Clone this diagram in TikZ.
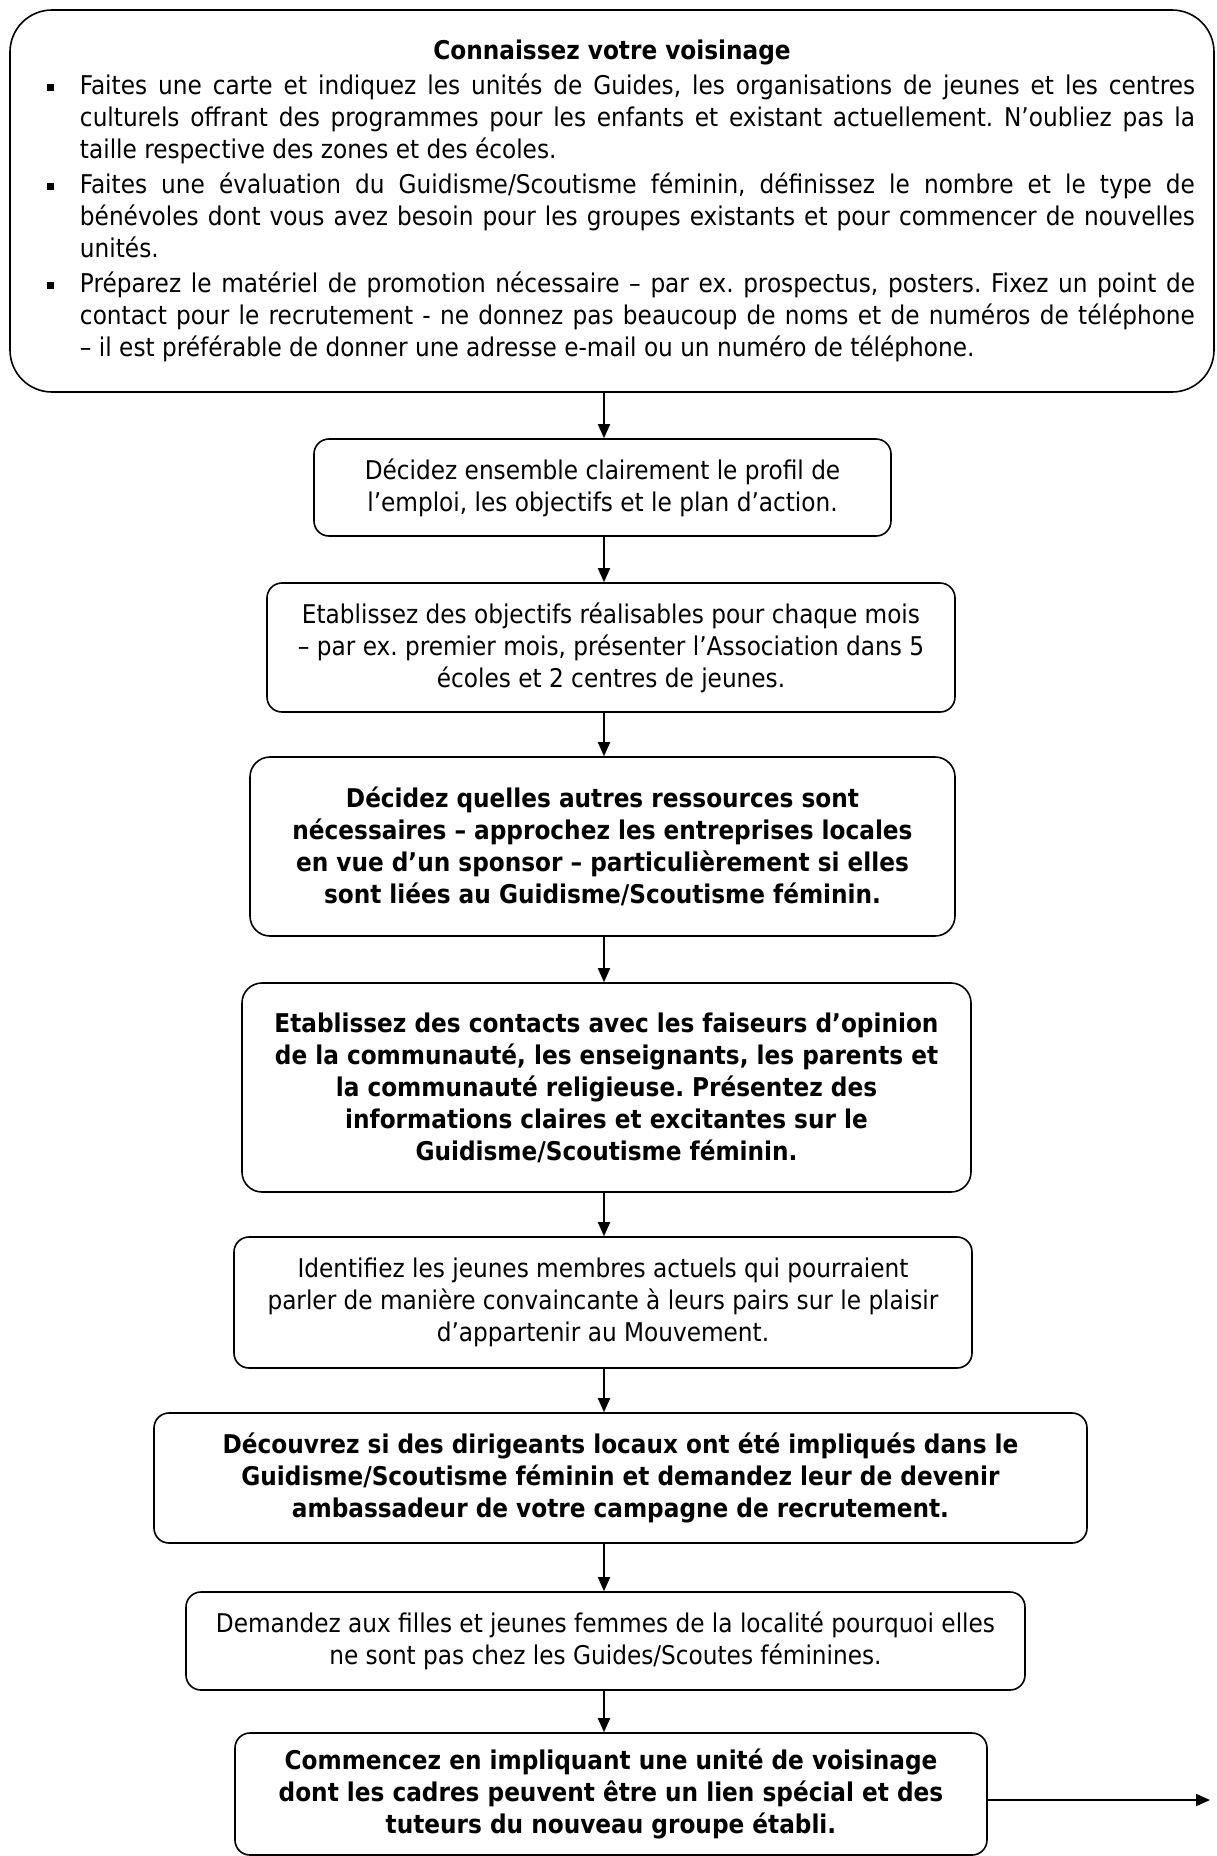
\documentclass[tikz,border=0pt]{standalone}
\usepackage{fontspec}
\setmainfont{DejaVu Sans Condensed}
\usetikzlibrary{arrows.meta}

\frenchspacing
\newcommand{\puce}{\leavevmode\llap{\rule[3.5pt]{7pt}{7pt}\hspace{26pt}}}

\tikzset{
  etape/.style={draw, line width=1.6pt, rounded corners=15pt, align=center,
    inner sep=0pt, font=\fontsize{25.8}{32}\selectfont},
  etapegras/.style={etape, font=\fontsize{25.8}{32}\selectfont\bfseries},
  fleche/.style={line width=1.6pt, -{Triangle[length=14pt,width=12pt]}},
}

\begin{document}
\begin{tikzpicture}[x=1pt, y=-1pt]
  \useasboundingbox (0,0) rectangle (1216,1856);
  \coordinate (axe) at (604,0);
  \coordinate (sortie) at (1210,1800);

  \node[draw, line width=1.6pt, rounded corners=42pt, minimum height=382pt,
    text width=1166pt, inner xsep=19pt, inner ysep=0pt, align=justify,
    font=\fontsize{25.8}{32}\selectfont] (voisin) at (612,201) {%
    \parskip=3pt \hyphenpenalty=10000
    {\centering\bfseries Connaissez votre voisinage\par}
    \leftskip=51pt
    \puce Faites une carte et indiquez les unités de Guides, les organisations de jeunes et les centres\linebreak
    culturels offrant des programmes pour les enfants et existant actuellement. N’oubliez pas la\linebreak
    taille respective des zones et des écoles.\par
    \puce Faites une évaluation du Guidisme/Scoutisme féminin, définissez le nombre et le type de\linebreak
    bénévoles dont vous avez besoin pour les groupes existants et pour commencer de nouvelles\linebreak
    unités.\par
    \puce Préparez le matériel de promotion nécessaire – par ex. prospectus, posters. Fixez un point de\linebreak
    contact pour le recrutement - ne donnez pas beaucoup de noms et de numéros de téléphone\linebreak
    – il est préférable de donner une adresse e-mail ou un numéro de téléphone.\par};

  \node[etape, minimum width=577pt, minimum height=97pt] (profil) at (602.5,487.5)
    {Décidez ensemble clairement le profil de\\ l’emploi, les objectifs et le plan d’action.};
  \node[etape, minimum width=688pt, minimum height=129pt] (objectifs) at (611,647.5)
    {Etablissez des objectifs réalisables pour chaque mois\\ – par ex. premier mois, présenter l’Association dans 5\\ écoles et 2 centres de jeunes.};
  \node[etapegras, rounded corners=20pt, minimum width=705pt, minimum height=179pt] (ressources) at (602.5,846.5)
    {Décidez quelles autres ressources sont\\ nécessaires – approchez les entreprises locales\\ en vue d’un sponsor – particulièrement si elles\\ sont liées au Guidisme/Scoutisme féminin.};
  \node[etapegras, rounded corners=20pt, minimum width=729pt, minimum height=209pt] (contacts) at (606.5,1087.5)
    {Etablissez des contacts avec les faiseurs d’opinion\\ de la communauté, les enseignants, les parents et\\ la communauté religieuse. Présentez des\\ informations claires et excitantes sur le\\ Guidisme/Scoutisme féminin.};
  \node[etape, minimum width=738pt, minimum height=131pt] (jeunes) at (603,1302.5)
    {Identifiez les jeunes membres actuels qui pourraient\\ parler de manière convaincante à leurs pairs sur le plaisir\\ d’appartenir au Mouvement.};
  \node[etapegras, minimum width=933pt, minimum height=130pt] (dirigeants) at (620.5,1478)
    {Découvrez si des dirigeants locaux ont été impliqués dans le\\ Guidisme/Scoutisme féminin et demandez leur de devenir\\ ambassadeur de votre campagne de recrutement.};
  \node[etape, minimum width=839pt, minimum height=98pt] (filles) at (605.5,1641)
    {Demandez aux filles et jeunes femmes de la localité pourquoi elles\\ ne sont pas chez les Guides/Scoutes féminines.};
  \node[etapegras, minimum width=752pt, minimum height=122pt] (lien) at (611,1794)
    {Commencez en impliquant une unité de voisinage\\ dont les cadres peuvent être un lien spécial et des\\ tuteurs du nouveau groupe établi.};

  \draw[fleche] (voisin.south -| axe) -- (profil.north -| axe);
  \draw[fleche] (profil.south -| axe) -- (objectifs.north -| axe);
  \draw[fleche] (objectifs.south -| axe) -- (ressources.north -| axe);
  \draw[fleche] (ressources.south -| axe) -- (contacts.north -| axe);
  \draw[fleche] (contacts.south -| axe) -- (jeunes.north -| axe);
  \draw[fleche] (jeunes.south -| axe) -- (dirigeants.north -| axe);
  \draw[fleche] (dirigeants.south -| axe) -- (filles.north -| axe);
  \draw[fleche] (filles.south -| axe) -- (lien.north -| axe);
  \draw[fleche] (lien.east |- sortie) -- (sortie);
\end{tikzpicture}
\end{document}
